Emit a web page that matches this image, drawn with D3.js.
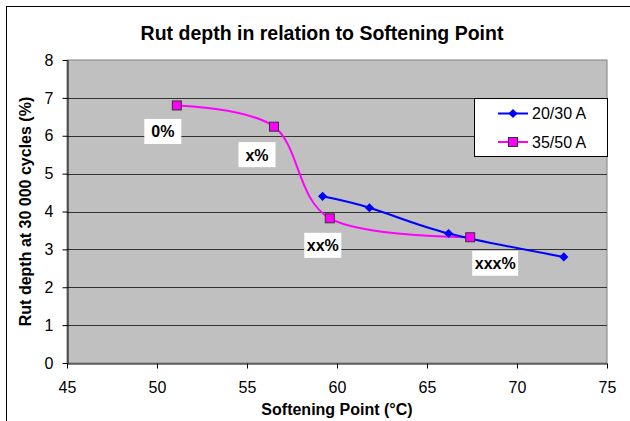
<!DOCTYPE html>
<html>
<head>
<meta charset="utf-8">
<script src="https://cdn.jsdelivr.net/npm/d3@7"></script>
<style>
  body { margin: 0; background: #ffffff; }
  text { font-family: "Liberation Sans", Arial, sans-serif; }
</style>
</head>
<body>
<div id="container"></div>
<script>
/* DATA */
const seriesNames = ["20/30 A", "35/50 A"];
const softening2030 = [59.2, 61.8, 66.2, 72.6];
const rut2030 = [4.4, 4.1, 3.42, 2.8];
const softening3550 = [51.1, 56.5, 59.6, 67.4];
const rut3550 = [6.8, 6.24, 3.82, 3.32];
const pointLabels3550 = ["0%", "x%", "xx%", "xxx%"];
const xTicks = [45, 50, 55, 60, 65, 70, 75];
const yTicks = [0, 1, 2, 3, 4, 5, 6, 7, 8];

/* CONSTANTS AND GLOBALS */
const width = 630;
const height = 421;
const plot = { left: 67, right: 607, top: 60, bottom: 363 };
// label box offsets from their point (px), moved by hand in the original
const labelShift = [[-14, 26], [-17, 28], [-7, 27], [25, 26]];

const svg = d3.select("#container")
  .append("svg")
  .attr("width", width)
  .attr("height", height)
  .style("background-color", "#ffffff");

// chart frame (only top and left edges visible)
svg.append("rect")
  .attr("x", 6.5).attr("y", 6.5)
  .attr("width", width + 20).attr("height", height + 20)
  .attr("fill", "none").attr("stroke", "#000");

/* SCALES */
const xScale = d3.scaleLinear()
  .domain([45, 75])
  .range([plot.left, plot.right]);

const yScale = d3.scaleLinear()
  .domain([0, 8])
  .range([plot.bottom, plot.top]);

/* PLOT AREA */
svg.append("rect")
  .attr("x", plot.left).attr("y", plot.top)
  .attr("width", plot.right - plot.left)
  .attr("height", plot.bottom - plot.top)
  .attr("fill", "#c0c0c0")
  .attr("stroke", "#808080");

// gridlines
svg.append("g")
  .selectAll("line")
  .data(yTicks.filter(d => d > 0 && d < 8))
  .join("line")
  .attr("x1", plot.left).attr("x2", plot.right)
  .attr("y1", d => Math.round(yScale(d)) + 0.5)
  .attr("y2", d => Math.round(yScale(d)) + 0.5)
  .attr("stroke", "#333");

// X-axis
const xAxis = svg.append("g")
  .attr("transform", `translate(0,${plot.bottom + 0.5})`)
  .call(d3.axisBottom(xScale).tickValues(xTicks).tickSize(5).tickPadding(13).tickSizeOuter(0));

// Y-axis
const yAxis = svg.append("g")
  .attr("transform", `translate(${plot.left + 0.5},0)`)
  .call(d3.axisLeft(yScale).tickValues(yTicks).tickSize(5).tickPadding(9).tickSizeOuter(0));

[xAxis, yAxis].forEach(g => {
  g.selectAll("text")
    .style("font-size", "16px")
    .attr("fill", "#000")
    .style("font-family", "'Liberation Sans', Arial, sans-serif");
  g.selectAll("line").attr("stroke", "#000");
  g.select(".domain").attr("stroke", "#000");
});

/* LINES */
const line = d3.line()
  .x(d => xScale(d[0]))
  .y(d => yScale(d[1]))
  .curve(d3.curveCatmullRom.alpha(0));

const pts2030 = softening2030.map((s, i) => [s, rut2030[i]]);
const pts3550 = softening3550.map((s, i) => [s, rut3550[i]]);

svg.append("path")
  .datum(pts3550)
  .attr("d", line)
  .attr("fill", "none")
  .attr("stroke", "#ff00ff")
  .attr("stroke-width", 2);

svg.append("path")
  .datum(pts2030)
  .attr("d", line)
  .attr("fill", "none")
  .attr("stroke", "#0000ff")
  .attr("stroke-width", 2);

// markers
const diamond = d3.symbol().type(d3.symbolSquare).size(42);

svg.selectAll(".dia")
  .data(pts2030)
  .join("path")
  .attr("class", "dia")
  .attr("d", diamond)
  .attr("transform", d => `translate(${xScale(d[0])},${yScale(d[1])}) rotate(45)`)
  .attr("fill", "#0000ff");

svg.selectAll(".sq")
  .data(pts3550)
  .join("rect")
  .attr("class", "sq")
  .attr("x", d => xScale(d[0]) - 4.5)
  .attr("y", d => yScale(d[1]) - 4.5)
  .attr("width", 9).attr("height", 9)
  .attr("fill", "#ff00ff")
  .attr("stroke", "#333");

/* DATA LABELS */
const labelG = svg.selectAll(".lab")
  .data(pts3550)
  .join("g")
  .attr("class", "lab")
  .attr("transform", (d, i) =>
    `translate(${xScale(d[0]) + labelShift[i][0]},${yScale(d[1]) + labelShift[i][1]})`);

labelG.append("rect")
  .attr("fill", "#fff");

labelG.append("text")
  .text((d, i) => pointLabels3550[i])
  .attr("text-anchor", "middle")
  .attr("y", 6)
  .style("font-size", "16px")
  .style("font-weight", "bold");

labelG.each(function () {
  const g = d3.select(this);
  const w = Math.max(g.select("text").node().getComputedTextLength() + 5, 37);
  g.select("rect")
    .attr("x", -w / 2).attr("y", -12.5)
    .attr("width", w).attr("height", 25);
});

/* TITLES */
svg.append("text")
  .attr("x", 322)
  .attr("y", 40)
  .attr("text-anchor", "middle")
  .style("font-size", "19.5px")
  .style("font-weight", "bold")
  .text("Rut depth in relation to Softening Point");

svg.append("text")
  .attr("x", (plot.left + plot.right) / 2)
  .attr("y", 415)
  .attr("text-anchor", "middle")
  .style("font-size", "16px")
  .style("font-weight", "bold")
  .text("Softening Point (°C)");

svg.append("text")
  .attr("transform", `translate(31,${(plot.top + plot.bottom) / 2}) rotate(-90)`)
  .attr("text-anchor", "middle")
  .style("font-size", "16px")
  .style("font-weight", "bold")
  .text("Rut depth at 30 000 cycles (%)");

/* LEGEND */
const legend = svg.append("g");

legend.append("rect")
  .attr("x", 474.5).attr("y", 98.5)
  .attr("width", 133).attr("height", 58)
  .attr("fill", "#fff")
  .attr("stroke", "#000");

const legendColors = ["#0000ff", "#ff00ff"];
seriesNames.forEach((name, i) => {
  const y = 113.5 + i * 28.5;
  legend.append("line")
    .attr("x1", 498).attr("x2", 528)
    .attr("y1", y).attr("y2", y)
    .attr("stroke", legendColors[i])
    .attr("stroke-width", 2);
  if (i === 0) {
    legend.append("path")
      .attr("d", diamond)
      .attr("transform", `translate(513,${y}) rotate(45)`)
      .attr("fill", legendColors[i]);
  } else {
    legend.append("rect")
      .attr("x", 508.5).attr("y", y - 4.5)
      .attr("width", 9).attr("height", 9)
      .attr("fill", legendColors[i])
      .attr("stroke", "#333");
  }
  legend.append("text")
    .attr("x", 532)
    .attr("y", y + 5.7)
    .style("font-size", "16px")
    .text(name);
});
</script>
</body>
</html>
